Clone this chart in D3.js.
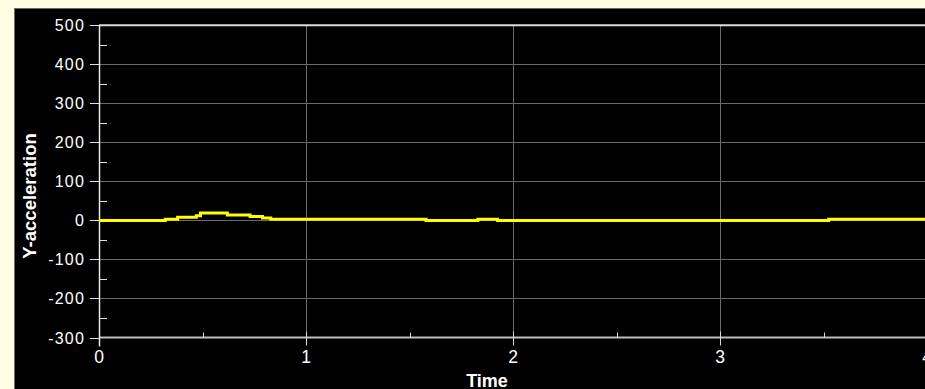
<!DOCTYPE html>
<html>
<head>
<meta charset="utf-8">
<script src="https://cdn.jsdelivr.net/npm/d3@7"></script>
<style>
  html, body { margin: 0; padding: 0; background: #fffde2; overflow: hidden; }
  svg { display: block; }
</style>
</head>
<body>
<svg id="chart" width="925" height="389"></svg>
<script>
// Y-acceleration trace (step-after samples)
const times = [0, 0.32, 0.38, 0.47, 0.49, 0.62, 0.73, 0.79, 0.83, 1.58, 1.83, 1.925, 3.525, 4.0];
const accel = [0, 3, 8, 12, 19, 14, 10, 6, 3, 0, 3, 0, 3, 3];

const yMajorTicks = [-300, -200, -100, 0, 100, 200, 300, 400, 500];
const yMinorTicks = [-250, -150, -50, 50, 150, 250, 350, 450];
const xMajorTicks = [0, 1, 2, 3, 4];
const xMinorTicks = [0.5, 1.5, 2.5, 3.5];

const W = 925, H = 389;
const svg = d3.select("#chart");

const x = d3.scaleLinear().domain([0, 4]).range([99, 927]);
const y = d3.scaleLinear().domain([-300, 500]).range([337.5, 25.3]);

// dark panel
svg.append("rect")
  .attr("x", 14.5).attr("y", 8.5)
  .attr("width", W).attr("height", H)
  .attr("fill", "#000")
  .attr("stroke", "#6d6c55").attr("stroke-width", 1);

// horizontal grid
svg.append("g").selectAll("line")
  .data(yMajorTicks.filter(v => v > -300 && v < 500))
  .join("line")
  .attr("x1", x(0)).attr("x2", W)
  .attr("y1", d => Math.round(y(d)) + 0.5).attr("y2", d => Math.round(y(d)) + 0.5)
  .attr("stroke", "#6a6a6a").attr("stroke-width", 1);

// vertical grid
svg.append("g").selectAll("line")
  .data(xMajorTicks.filter(v => v > 0 && v < 4))
  .join("line")
  .attr("x1", d => Math.round(x(d)) + 0.5).attr("x2", d => Math.round(x(d)) + 0.5)
  .attr("y1", y(500)).attr("y2", y(-300))
  .attr("stroke", "#6a6a6a").attr("stroke-width", 1);

// top frame line
svg.append("line")
  .attr("x1", x(0)).attr("x2", W)
  .attr("y1", y(500)).attr("y2", y(500))
  .attr("stroke", "#dcdcdc").attr("stroke-width", 2);

// x axis line
svg.append("line")
  .attr("x1", x(0)).attr("x2", W)
  .attr("y1", y(-300)).attr("y2", y(-300))
  .attr("stroke", "#bdbdbd").attr("stroke-width", 2);

// y axis line
svg.append("line")
  .attr("x1", x(0) + 0.5).attr("x2", x(0) + 0.5)
  .attr("y1", y(500)).attr("y2", y(-300) + 9)
  .attr("stroke", "#e8e8e8").attr("stroke-width", 1.5);

// y major ticks (outside), minor ticks (inside)
svg.append("g").selectAll("line")
  .data(yMajorTicks)
  .join("line")
  .attr("x1", x(0) - 9).attr("x2", x(0))
  .attr("y1", d => Math.round(y(d)) + 0.5).attr("y2", d => Math.round(y(d)) + 0.5)
  .attr("stroke", "#e0e0e0").attr("stroke-width", 1);
svg.append("g").selectAll("line")
  .data(yMinorTicks)
  .join("line")
  .attr("x1", x(0)).attr("x2", x(0) + 8)
  .attr("y1", d => Math.round(y(d)) + 0.5).attr("y2", d => Math.round(y(d)) + 0.5)
  .attr("stroke", "#e0e0e0").attr("stroke-width", 1);

// x major ticks crossing the axis, minor ticks inside
svg.append("g").selectAll("line")
  .data(xMajorTicks.filter(v => v > 0))
  .join("line")
  .attr("x1", d => Math.round(x(d)) + 0.5).attr("x2", d => Math.round(x(d)) + 0.5)
  .attr("y1", y(-300) - 6).attr("y2", y(-300) + 8)
  .attr("stroke", "#d8d8d8").attr("stroke-width", 1);
svg.append("g").selectAll("line")
  .data(xMinorTicks)
  .join("line")
  .attr("x1", d => Math.round(x(d)) + 0.5).attr("x2", d => Math.round(x(d)) + 0.5)
  .attr("y1", y(-300) - 5).attr("y2", y(-300))
  .attr("stroke", "#d8d8d8").attr("stroke-width", 1);

// tick labels
svg.append("g").selectAll("text")
  .data(yMajorTicks)
  .join("text")
  .attr("x", 85).attr("y", d => y(d) + 6)
  .attr("text-anchor", "end")
  .attr("fill", "#fff")
  .attr("font-family", "Liberation Sans, Arial, sans-serif")
  .attr("font-size", 16).attr("letter-spacing", 1.2)
  .text(d => d);

svg.append("g").selectAll("text")
  .data(xMajorTicks)
  .join("text")
  .attr("x", d => x(d)).attr("y", 363)
  .attr("text-anchor", "middle")
  .attr("fill", "#fff")
  .attr("font-family", "Liberation Sans, Arial, sans-serif")
  .attr("font-size", 17.5)
  .text(d => d);

// axis titles
svg.append("text")
  .attr("x", 487).attr("y", 387)
  .attr("text-anchor", "middle")
  .attr("fill", "#fff")
  .attr("font-family", "Liberation Sans, Arial, sans-serif")
  .attr("font-weight", "bold")
  .attr("font-size", 18)
  .text("Time");

svg.append("text")
  .attr("transform", "translate(36,196) rotate(-90)")
  .attr("text-anchor", "middle")
  .attr("fill", "#fff")
  .attr("font-family", "Liberation Sans, Arial, sans-serif")
  .attr("font-weight", "bold")
  .attr("font-size", 18.5)
  .text("Y-acceleration");

// trace
const line = d3.line()
  .x((d, i) => x(times[i]))
  .y(d => y(d))
  .curve(d3.curveStepAfter);

svg.append("path")
  .datum(accel)
  .attr("d", line)
  .attr("fill", "none")
  .attr("stroke", "#ffff00")
  .attr("stroke-width", 3);
</script>
</body>
</html>
